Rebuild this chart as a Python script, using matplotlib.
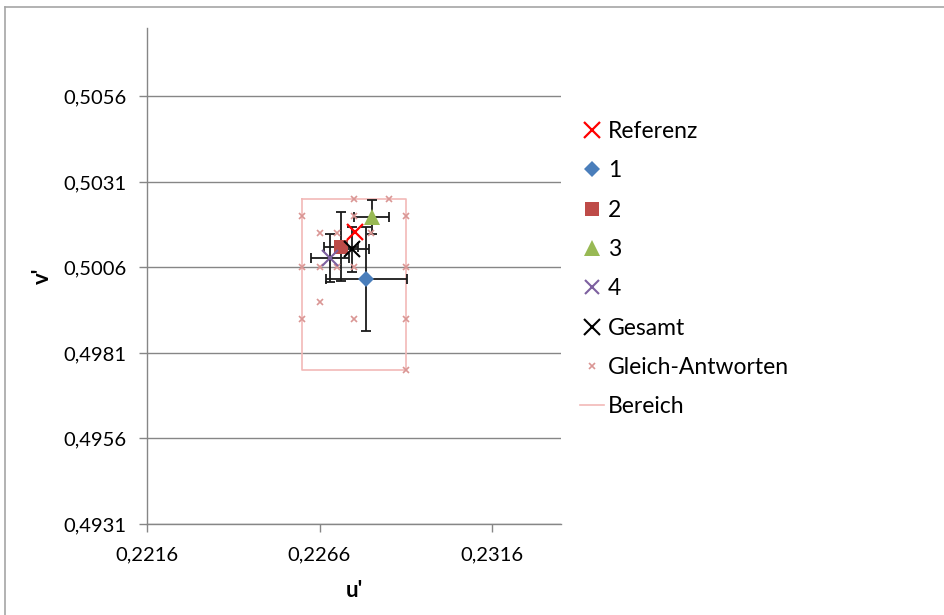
import numpy as np
import matplotlib.pyplot as plt
from matplotlib.ticker import FuncFormatter
from matplotlib.lines import Line2D

plt.rcParams['font.family'] = ['Lato', 'DejaVu Sans']

# Referenzpunkt
ref_u = [0.22762]
ref_v = [0.50164]

# Mittelwerte der Versuchsreihen mit Standardabweichung
serien = ['1', '2', '3', '4', 'Gesamt']
mittel_u = [0.22796, 0.22722, 0.22811, 0.22690, 0.22755]
mittel_v = [0.50026, 0.50121, 0.50208, 0.50088, 0.50113]
fehler_u = [0.00118, 0.00050, 0.00051, 0.00055, 0.00048]
fehler_v = [0.00153, 0.00100, 0.00050, 0.00070, 0.00066]

# Gleich-Antworten
gleich_u = [0.2261, 0.2261, 0.2261,
            0.2266, 0.2266, 0.2266,
            0.2271, 0.2271,
            0.2276, 0.2276, 0.2276, 0.2276,
            0.2281, 0.2286,
            0.2291, 0.2291, 0.2291, 0.2291]
gleich_v = [0.5021, 0.5006, 0.4991,
            0.5016, 0.5006, 0.4996,
            0.5016, 0.5006,
            0.5026, 0.5021, 0.5006, 0.4991,
            0.5016, 0.5026,
            0.5021, 0.5006, 0.4991, 0.4976]

# Bereich (Rechteck)
bereich_u = [0.2261, 0.2291, 0.2291, 0.2261, 0.2261]
bereich_v = [0.5026, 0.5026, 0.4976, 0.4976, 0.5026]

x_ticks = [0.2216, 0.2266, 0.2316]
y_ticks = [0.4931, 0.4956, 0.4981, 0.5006, 0.5031, 0.5056]

farben = ['#4A7EBB', '#BE4B48', '#98B954', '#7D60A0', '#000000']
marker = ['D', 's', '^', 'x', 'x']
groesse = [8.5, 10, 11.5, 11, 12]

fig = plt.figure(figsize=(9.44, 6.15), dpi=100)
ax = fig.add_axes([147 / 944, 1 - 524 / 615, (561 - 147) / 944, (524 - 28) / 615])

# Rahmen um das Diagramm
fig.add_artist(Line2D([5 / 944, 1], [1 - 7 / 615, 1 - 7 / 615], color='#A6A6A6', lw=1.2))
fig.add_artist(Line2D([5 / 944, 5 / 944], [0, 1 - 7 / 615], color='#A6A6A6', lw=1.2))

ax.plot(bereich_u, bereich_v, color='#F2B9B8', lw=1.2, zorder=2)

for i in range(len(serien)):
    ax.errorbar(mittel_u[i], mittel_v[i], xerr=fehler_u[i], yerr=fehler_v[i],
                fmt='none', ecolor='#1A1A1A', elinewidth=1.3, capsize=3.5,
                capthick=1.3, zorder=3)

ax.plot(gleich_u, gleich_v, 'x', color='#DA9694', ms=5, mew=1.2, zorder=4)

for i in range(len(serien)):
    mew = 1.5 if marker[i] == 'x' else 0
    ax.plot(mittel_u[i], mittel_v[i], marker[i], color=farben[i], ms=groesse[i],
            mew=mew, zorder=5)

ax.plot(ref_u, ref_v, 'x', color='#FF0000', ms=12, mew=1.6, zorder=6)

ax.set_xlim(0.2216, 0.2336)
ax.set_ylim(0.4931, 0.5076)
ax.set_xticks(x_ticks)
ax.set_yticks(y_ticks)
komma = FuncFormatter(lambda w, p: f'{w:.4f}'.replace('.', ','))
ax.xaxis.set_major_formatter(komma)
ax.yaxis.set_major_formatter(komma)
ax.tick_params(direction='out', length=6, width=1, color='#868686',
               labelsize=14.5, pad=9)
ax.tick_params(axis='x', pad=10)

ax.grid(axis='y', color='#868686', lw=1)
ax.set_axisbelow(True)
for s in ['top', 'right']:
    ax.spines[s].set_visible(False)
for s in ['left', 'bottom']:
    ax.spines[s].set_color('#868686')
    ax.spines[s].set_linewidth(1)

ax.set_xlabel("u'", fontsize=16, fontweight='bold', labelpad=12)
ax.set_ylabel("v'", fontsize=16, fontweight='bold', labelpad=7)

# Legende
griffe = [Line2D([], [], ls='none', marker='x', color='#FF0000', ms=11, mew=1.6)]
for i in range(len(serien)):
    mew = 1.5 if marker[i] == 'x' else 0
    griffe.append(Line2D([], [], ls='none', marker=marker[i], color=farben[i],
                         ms=groesse[i] * 0.95, mew=mew))
griffe.append(Line2D([], [], ls='none', marker='x', color='#DA9694', ms=5, mew=1.2))
griffe.append(Line2D([], [], color='#F2B9B8', lw=1.2))
namen = ['Referenz'] + serien + ['Gleich-Antworten', 'Bereich']
fig.legend(griffe, namen, loc='upper left', bbox_to_anchor=(580 / 944, 1 - 121 / 615),
           frameon=False, fontsize=16.5, handlelength=1.05, handletextpad=0.17,
           labelspacing=0.8, borderaxespad=0, borderpad=0)

fig.savefig('out.png', dpi=100)
